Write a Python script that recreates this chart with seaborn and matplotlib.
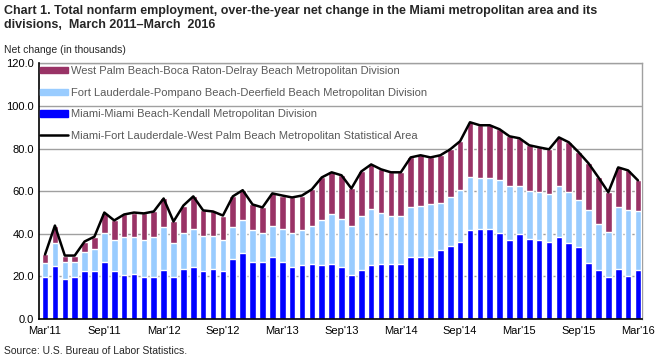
import numpy as np
import pandas as pd
import seaborn as sns
import matplotlib.pyplot as plt
from matplotlib.patches import Patch
from matplotlib.lines import Line2D

# Datos (miles), marzo 2011 - marzo 2016
months = pd.date_range("2011-03-01", "2016-03-01", freq="MS").strftime("%b'%y").tolist()

miami = [19.5, 25.1, 19.0, 19.9, 22.7, 22.7, 27.0, 22.7, 20.9, 21.3, 19.9, 19.9,
         23.2, 19.9, 23.7, 24.6, 22.7, 23.7, 22.7, 28.4, 31.2, 27.0, 27.0, 28.9,
         27.0, 24.6, 25.6, 26.0, 25.6, 26.0, 24.6, 20.9, 23.2, 25.6, 26.0, 26.0,
         26.0, 28.9, 28.9, 29.3, 32.2, 34.5, 36.4, 42.0, 42.5, 42.5, 40.2, 36.9,
         39.7, 37.8, 36.9, 36.4, 38.3, 35.9, 34.0, 26.5, 23.2, 19.5, 23.7, 20.4, 23.2]
fort_lauderdale = [7.0, 10.8, 8.0, 7.1, 9.0, 10.4, 13.6, 14.2, 17.8, 17.0, 17.4, 18.4,
                   19.8, 16.0, 16.5, 17.9, 16.5, 15.5, 14.6, 14.6, 15.5, 14.6, 13.2, 14.6,
                   15.5, 16.0, 16.0, 17.5, 21.1, 23.1, 22.6, 23.0, 25.0, 25.9, 24.0, 22.6,
                   22.6, 23.5, 24.4, 24.5, 22.1, 22.6, 24.0, 24.5, 23.5, 23.5, 24.9, 25.4,
                   22.6, 22.1, 22.6, 22.1, 24.4, 23.6, 21.7, 24.5, 21.2, 21.6, 28.7, 30.6, 27.3]
west_palm = [3.8, 8.0, 2.8, 2.8, 4.7, 5.6, 9.4, 9.4, 10.4, 11.7, 12.3, 12.2,
             13.6, 9.9, 13.1, 15.1, 11.8, 11.3, 11.3, 14.6, 13.8, 12.2, 12.2, 15.5,
             15.5, 16.5, 16.4, 17.4, 19.8, 19.8, 20.3, 17.4, 21.1, 21.1, 20.3, 20.3,
             20.3, 23.5, 23.6, 22.1, 22.6, 22.6, 23.1, 25.9, 25.0, 25.0, 24.0, 23.5,
             22.6, 21.7, 21.1, 21.2, 22.6, 23.5, 22.6, 22.1, 22.1, 18.4, 18.8, 18.8, 14.6]
msa_total = [30.3, 43.9, 29.8, 29.8, 36.4, 38.7, 50.0, 46.3, 49.1, 50.0, 49.6, 50.5,
             56.6, 45.8, 53.3, 57.6, 51.0, 50.5, 48.6, 57.6, 60.5, 53.8, 52.4, 59.0,
             58.0, 57.1, 58.0, 60.9, 66.5, 68.9, 67.5, 61.3, 69.3, 72.6, 70.3, 68.9,
             68.9, 75.9, 76.9, 75.9, 76.9, 79.7, 83.5, 92.4, 91.0, 91.0, 89.1, 85.8,
             84.9, 81.6, 80.6, 79.7, 85.3, 83.0, 78.3, 73.1, 66.5, 59.5, 71.2, 69.8, 65.1]

labels = ['West Palm Beach-Boca Raton-Delray Beach Metropolitan Division',
          'Fort Lauderdale-Pompano Beach-Deerfield Beach Metropolitan Division',
          'Miami-Miami Beach-Kendall Metropolitan Division',
          'Miami-Fort Lauderdale-West Palm Beach Metropolitan Statistical Area']
colors = ['#993366', '#99CCFF', '#0000FF']

df = pd.DataFrame({'idx': np.arange(len(months)), 'mes': months,
                   'miami': miami, 'ftl': fort_lauderdale, 'wpb': west_palm,
                   'total': msa_total})
df['lvl2'] = df['miami'] + df['ftl']
df['lvl3'] = df['lvl2'] + df['wpb']

sns.set_style('white')
plt.rcParams['font.family'] = ['Liberation Sans', 'DejaVu Sans']

fig = plt.figure(figsize=(6.63, 3.61), dpi=100)
ax = fig.add_axes([0.0593, 0.1163, 0.9095, 0.7078])

# barras apiladas (de la mas alta a la mas baja)
sns.barplot(data=df, x='idx', y='lvl3', color=colors[0], saturation=1, width=0.67, ax=ax, zorder=3)
sns.barplot(data=df, x='idx', y='lvl2', color=colors[1], saturation=1, width=0.67, ax=ax, zorder=3)
sns.barplot(data=df, x='idx', y='miami', color=colors[2], saturation=1, width=0.67, ax=ax, zorder=3)
sns.lineplot(data=df, x='idx', y='total', color='black', linewidth=1.8, ax=ax, zorder=4)

ax.yaxis.grid(True, color='#A0A0A0', linewidth=1, zorder=0)
ax.xaxis.grid(False)
ax.set_axisbelow(True)

ax.set_ylim(0, 120)
ax.set_xlim(-0.58, 60.44)
ax.set_yticks(np.arange(0, 121, 20))
ax.set_yticklabels([f'{v:.1f}' for v in np.arange(0, 121, 20)])
tick_pos = list(range(0, 61, 6))
ax.set_xticks(tick_pos)
ax.set_xticklabels([months[i] for i in tick_pos])
ax.tick_params(axis='both', length=0, labelsize=8, colors='black')
ax.tick_params(axis='x', pad=5)
ax.tick_params(axis='y', pad=4)
ax.set_xlabel('')
ax.set_ylabel('')

for s in ['left', 'bottom']:
    ax.spines[s].set_color('black')
    ax.spines[s].set_linewidth(1.2)
    ax.spines[s].set_zorder(5)
for s in ['top', 'right']:
    ax.spines[s].set_color('#A0A0A0')
    ax.spines[s].set_linewidth(1)

handles = [Patch(color=colors[0]), Patch(color=colors[1]), Patch(color=colors[2]),
           Line2D([0], [0], color='black', linewidth=1.8)]
leg = ax.legend(handles, labels, loc='upper left', bbox_to_anchor=(0.001, 0.99),
                frameon=False, fontsize=8, handlelength=2.5, handleheight=0.5,
                handletextpad=0.3, labelspacing=1.05, borderpad=0, borderaxespad=0)
for t in leg.get_texts():
    t.set_color('#595959')

fig.text(0.006, 0.985, 'Chart 1. Total nonfarm employment, over-the-year net change in the Miami metropolitan area and its\ndivisions,  March 2011\u2013March  2016',
         fontsize=9, fontweight='bold', va='top', ha='left', linespacing=1.15)
fig.text(0.006, 0.862, 'Net change (in thousands)', fontsize=7.5, va='center', ha='left')
fig.text(0.006, 0.027, 'Source: U.S. Bureau of Labor Statistics.', fontsize=7.5, va='center', ha='left')

fig.savefig('out.png', dpi=100)
